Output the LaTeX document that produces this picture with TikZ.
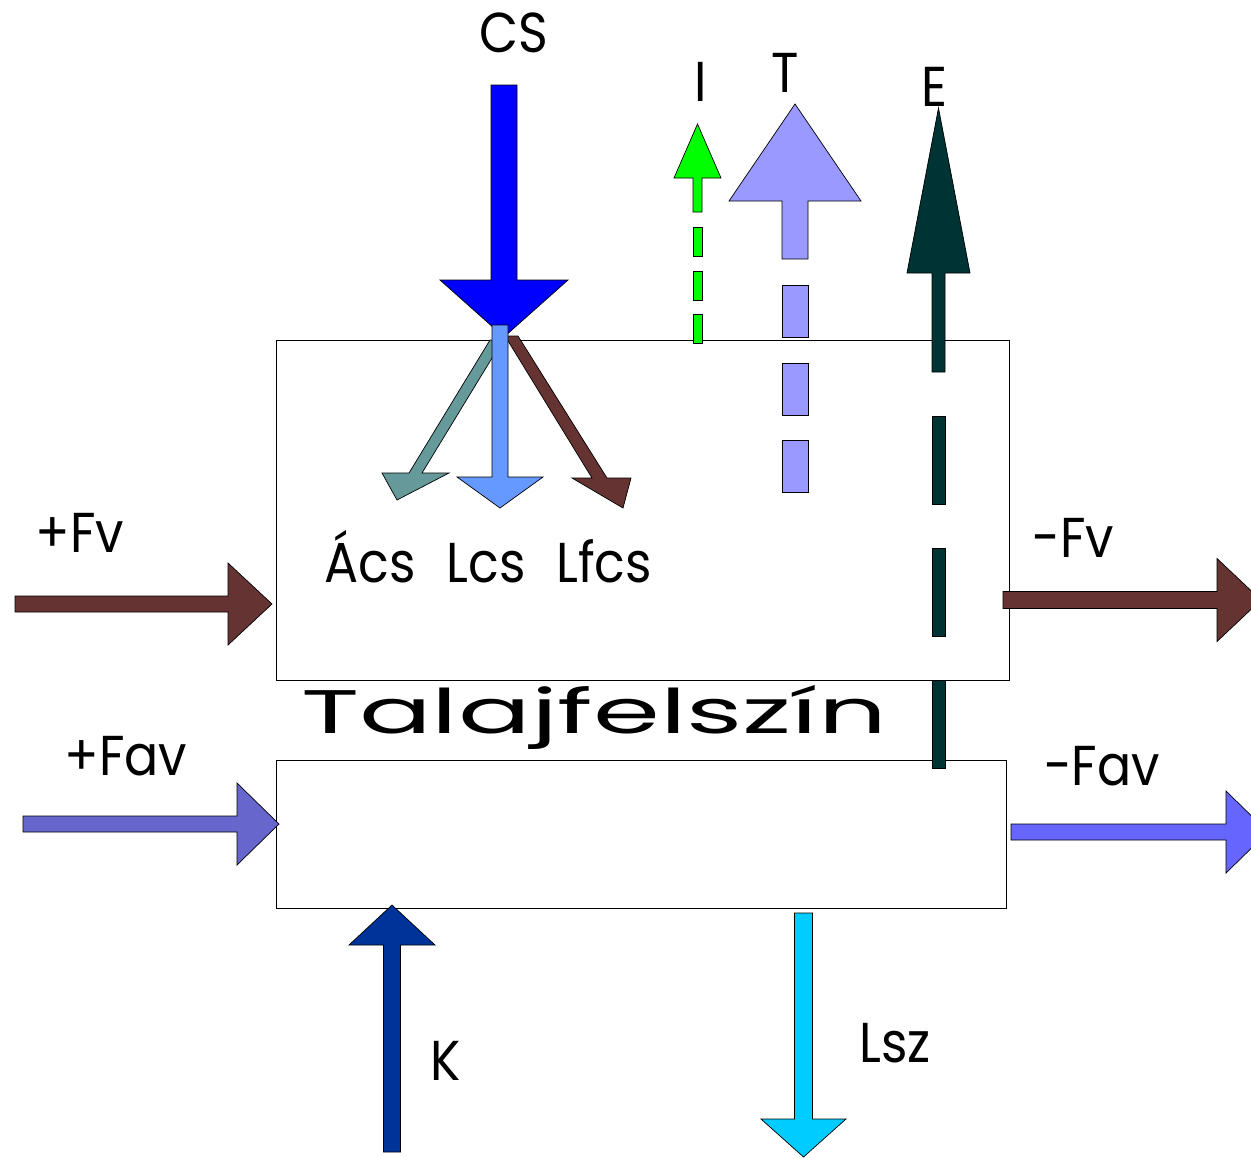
\documentclass[tikz,border=0pt]{standalone}
\usepackage{fontspec}
\setmainfont{Poppins}
\usetikzlibrary{calc}

\definecolor{csblue}{HTML}{0000FF}
\definecolor{lcsblue}{HTML}{6699FF}
\definecolor{acsteal}{HTML}{669999}
\definecolor{fvbrown}{HTML}{663333}
\definecolor{igreen}{HTML}{00FF00}
\definecolor{tviolet}{HTML}{9999FF}
\definecolor{edark}{HTML}{003333}
\definecolor{favin}{HTML}{6666CC}
\definecolor{favout}{HTML}{6666FF}
\definecolor{knavy}{HTML}{003399}
\definecolor{lszcyan}{HTML}{00CCFF}

\tikzset{
  flowlabel/.style={font=\fontsize{32pt}{36pt}\selectfont, inner sep=0pt, anchor=base, xscale=0.9},
  soilbox/.style={draw=black, line width=0.5pt, inner sep=0pt},
  arrowedge/.style={draw=black, line width=0.4pt}
}

% block arrow: colour, tail, tip, shaft half width, head half width, head length (px)
\newcommand{\flowarrow}[6]{%
  \coordinate (hb) at ($(#3)!#6*0.02cm!(#2)$);
  \filldraw[#1, arrowedge] ($(#2)!#4*0.02cm!90:(#3)$) -- ($(hb)!#4*0.02cm!-90:(#2)$)
    -- ($(hb)!#5*0.02cm!-90:(#2)$) -- (#3) -- ($(hb)!#5*0.02cm!90:(#2)$)
    -- ($(hb)!#4*0.02cm!90:(#2)$) -- ($(#2)!#4*0.02cm!-90:(#3)$) -- cycle;
}

\begin{document}
\begin{tikzpicture}[x=0.02cm, y=-0.02cm]
    \useasboundingbox (0,0) rectangle (1251,1157);
    \clip (0,0) rectangle (1251,1157);

    % Soil layers
    \node[soilbox, minimum width=14.68cm, minimum height=6.8cm] (upper) at (643,510) {};
    \node[soilbox, minimum width=14.62cm, minimum height=2.96cm] (lower) at (641.5,834) {};
    \node[font=\fontsize{35pt}{40pt}\selectfont, inner sep=0pt, anchor=base, xscale=1.75] (surface) at (594,733) {Talajfelszín};

    % Precipitation and its split
    \coordinate (cs-tail) at (504,85);
    \coordinate (cs-tip) at (504,337);
    \flowarrow{csblue}{cs-tail}{cs-tip}{13}{64}{57}
    \filldraw[acsteal, arrowedge] (490,340) -- (409,473) -- (382,473) -- (397,500) -- (449,473) -- (422,473) -- (503,340) -- cycle;
    \filldraw[fvbrown, arrowedge] (505,336) -- (592,478) -- (572,478) -- (623,508) -- (631,478) -- (607,478) -- (518,336) -- cycle;
    \coordinate (lcs-tail) at (500,325);
    \coordinate (lcs-tip) at (500,508);
    \flowarrow{lcsblue}{lcs-tail}{lcs-tip}{8}{43}{31}

    % Interception, transpiration, evaporation
    \coordinate (i-tail) at (697.5,212);
    \coordinate (i-tip) at (697.5,124);
    \flowarrow{igreen}{i-tail}{i-tip}{4.5}{23.5}{54}
    \foreach \y in {227,271,314}
        \filldraw[igreen, arrowedge] (693,\y) rectangle (702,\y+29);

    \coordinate (t-tail) at (795,259);
    \coordinate (t-tip) at (795,104);
    \flowarrow{tviolet}{t-tail}{t-tip}{13}{66}{97}
    \foreach \y in {285,363,440}
        \filldraw[tviolet, arrowedge] (782,\y) rectangle (808,\y+52);

    \coordinate (e-tail) at (938.5,372);
    \coordinate (e-tip) at (938.5,108);
    \flowarrow{edark}{e-tail}{e-tip}{6.5}{31.5}{165}
    \foreach \y in {416,548,680}
        \filldraw[edark, arrowedge] (932,\y) rectangle (945,\y+88);

    % Lateral flows
    \coordinate (fv-in-tail) at (15,604);
    \coordinate (fv-in-tip) at (272,604);
    \flowarrow{fvbrown}{fv-in-tail}{fv-in-tip}{8}{41}{44}
    \coordinate (fv-out-tail) at (1003,600);
    \coordinate (fv-out-tip) at (1261,600);
    \flowarrow{fvbrown}{fv-out-tail}{fv-out-tip}{8.5}{41.5}{44}
    \coordinate (fav-in-tail) at (23,824);
    \coordinate (fav-in-tip) at (279,824);
    \flowarrow{favin}{fav-in-tail}{fav-in-tip}{8}{41}{42}
    \coordinate (fav-out-tail) at (1011,832);
    \coordinate (fav-out-tip) at (1268,832);
    \flowarrow{favout}{fav-out-tail}{fav-out-tip}{8}{41}{42}

    % Capillary rise and leaching
    \coordinate (k-tail) at (392,1152);
    \coordinate (k-tip) at (392,905);
    \flowarrow{knavy}{k-tail}{k-tip}{8.5}{43}{40}
    \coordinate (lsz-tail) at (803.5,913);
    \coordinate (lsz-tip) at (803.5,1157);
    \flowarrow{lszcyan}{lsz-tail}{lsz-tip}{9}{42.5}{38}

    % Labels
    \node[flowlabel] (cs) at (514,52) {CS};
    \node[flowlabel] (i) at (701,101) {I};
    \node[flowlabel] (t) at (785,92) {T};
    \node[flowlabel] (e) at (934,106) {E};
    \node[flowlabel] (acs) at (370,582) {Ács};
    \node[flowlabel] (lcs) at (486,582) {Lcs};
    \node[flowlabel] (lfcs) at (604,582) {Lfcs};
    \node[flowlabel] (fv-in) at (80,552) {+Fv};
    \node[flowlabel] (fv-out) at (1073,557) {-Fv};
    \node[flowlabel] (fav-in) at (126,775) {+Fav};
    \node[flowlabel] (fav-out) at (1102,785) {-Fav};
    \node[flowlabel] (k) at (446,1080) {K};
    \node[flowlabel] (lsz) at (895,1062) {Lsz};

\end{tikzpicture}
\end{document}
